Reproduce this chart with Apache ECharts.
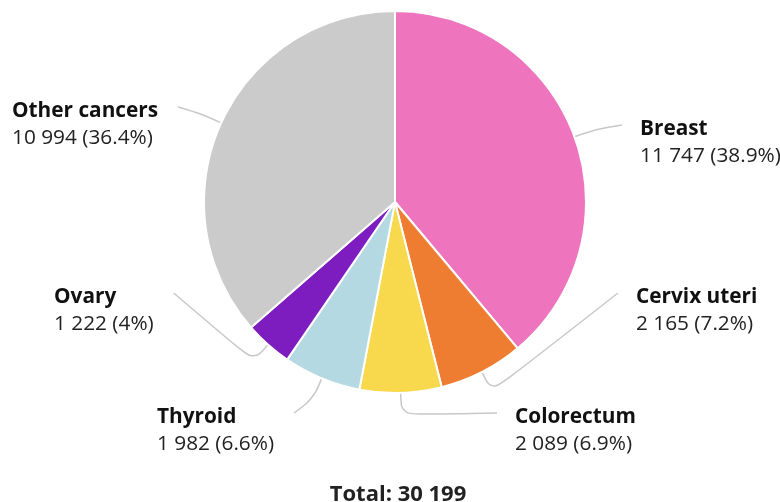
<!DOCTYPE html>
<html><head><meta charset="utf-8">
<script src="https://cdn.jsdelivr.net/npm/echarts@6/dist/echarts.min.js"></script>
<style>html,body{margin:0;padding:0;background:#fff}#c{width:780px;height:502px}</style>
</head><body><div id="c"></div>
<script>
var categories = ['Breast', 'Cervix uteri', 'Colorectum', 'Thyroid', 'Ovary', 'Other cancers'];
var values = [11747, 2165, 2089, 1982, 1222, 10994];
var colors = ['#EE74BE', '#EE7D32', '#F8D84C', '#B5D9E2', '#7D1DC0', '#CBCBCB'];
// label anchor positions (left x, middle y) for each category
var labelPos = [[640, 143], [636, 311], [515, 431], [157, 431], [54, 311], [12, 125]];

var CX = 395, CY = 202, R = 191;
var total = values.reduce(function (a, b) { return a + b; }, 0);
function fmt(n) { return String(n).replace(/\B(?=(\d{3})+(?!\d))/g, ' '); }
function pct(v) { var p = (v / total * 100).toFixed(1); return p.replace(/\.0$/, ''); }

// mid angle (clockwise from 12 o'clock) of each slice, from the data
var midAngles = [];
(function () {
  var acc = 0;
  values.forEach(function (v) {
    midAngles.push((acc + v / 2) / total * 2 * Math.PI);
    acc += v;
  });
})();

var chart = echarts.init(document.getElementById('c'), null, {renderer: 'canvas'});
chart.setOption({
  animation: false,
  title: {
    text: 'Total: ' + fmt(total),
    left: 393, textAlign: 'center', top: 479,
    textStyle: {fontFamily: 'Open Sans', fontWeight: 'bold', fontSize: 22, color: '#222'}
  },
  series: [{
    type: 'pie',
    center: [CX, CY],
    radius: R,
    startAngle: 90,
    clockwise: true,
    data: categories.map(function (c, i) {
      return {name: c, value: values[i], itemStyle: {color: colors[i]}};
    }),
    itemStyle: {borderColor: '#fff', borderWidth: 2},
    label: {
      show: true,
      formatter: function (p) { return '{n|' + p.name + '}\n{v|' + fmt(p.value) + ' (' + pct(p.value) + '%)}'; },
      rich: {
        n: {fontFamily: 'Open Sans', fontWeight: 'bold', fontSize: 20.8, color: '#111', lineHeight: 27},
        v: {fontFamily: 'Open Sans', fontSize: 20.8, color: '#222', lineHeight: 27}
      }
    },
    labelLine: {show: true, smooth: 0.35, length: 20, length2: 20, lineStyle: {color: '#c8c8c8', width: 1.5}},
    labelLayout: function (params) {
      var i = params.dataIndex;
      var p = labelPos[i];
      var a = midAngles[i];
      var sx = Math.sin(a), sy = -Math.cos(a);
      var p0 = [CX + R * sx, CY + R * sy];
      var p1 = [CX + (R + 22) * sx, CY + (R + 22) * sy];
      var nameY = p[1] - 13 - 5;
      var endX = sx >= 0 ? p[0] - 18 : p[0] + params.labelRect.width + 20;
      return {
        x: p[0], y: p[1], align: 'left', verticalAlign: 'middle',
        labelLinePoints: [p0, p1, [endX, nameY]]
      };
    }
  }]
});
</script></body></html>
